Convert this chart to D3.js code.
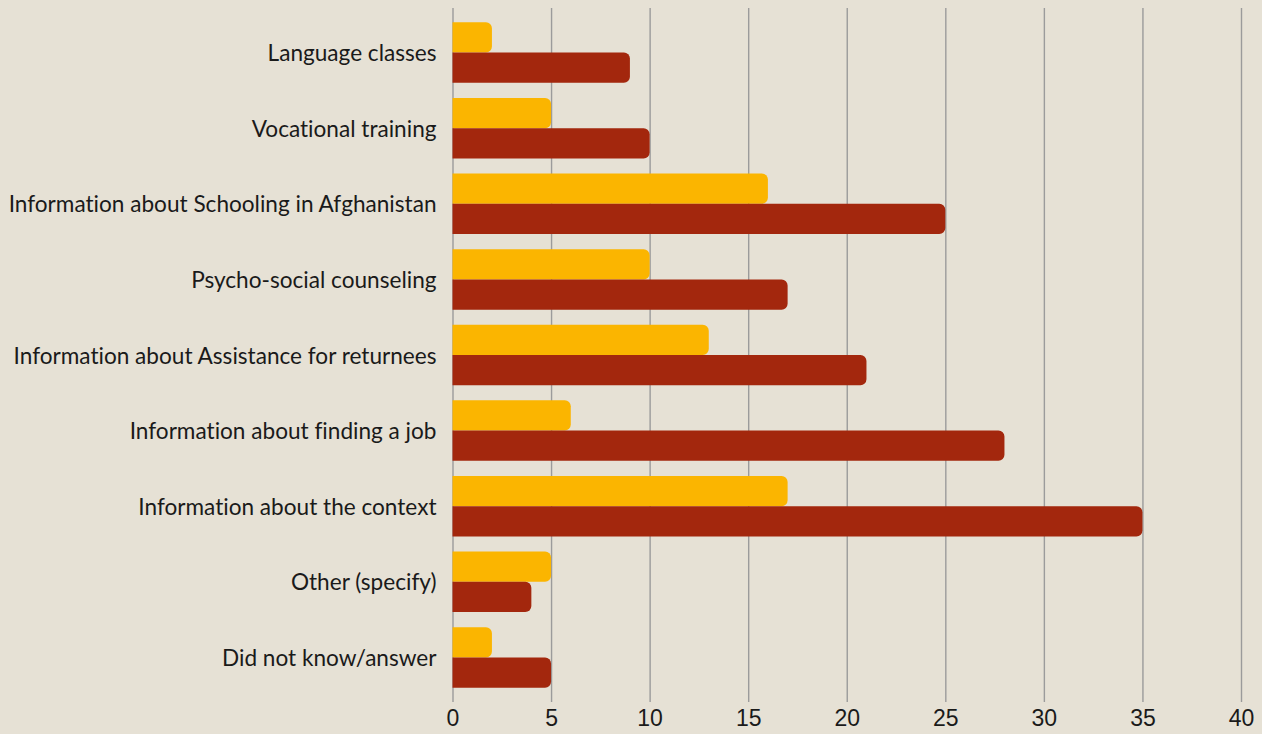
<!DOCTYPE html>
<html>
<head>
<meta charset="utf-8">
<script src="https://cdn.jsdelivr.net/npm/d3@7"></script>
<style>
  html, body { margin: 0; padding: 0; background: #e6e1d5; }
  svg { display: block; font-family: Lato, "Open Sans", sans-serif; font-variant-ligatures: none; }
  .cat { font-size: 22.6px; fill: #1a1a1a; }
  .tick text { font-size: 23px; fill: #1a1a1a; }
</style>
</head>
<body>
<div id="chart"></div>
<script>
const categories = [
    'Language classes',
    'Vocational training',
    'Information about Schooling in Afghanistan',
    'Psycho-social counseling',
    'Information about Assistance for returnees',
    'Information about finding a job',
    'Information about the context',
    'Other (specify)',
    'Did not know/answer'
];
const seriesA = [2, 5, 16, 10, 13, 6, 17, 5, 2];
const seriesB = [9, 10, 25, 17, 21, 28, 35, 4, 5];
const xTicks = [0, 5, 10, 15, 20, 25, 30, 35, 40];

const w = 1262, h = 734,
    margin = { top: 8, bottom: 32, left: 452.5, right: 21 };

const svg = d3.select('#chart').append('svg')
    .attr('width', w)
    .attr('height', h);

svg.append('rect').attr('width', w).attr('height', h).attr('fill', '#e6e1d5');

const xScale = d3.scaleLinear()
    .domain([0, 40])
    .range([margin.left, w - margin.right]);

const yScale = d3.scaleBand()
    .domain(categories)
    .range([margin.top, h - margin.bottom])
    .paddingInner(0.2)
    .paddingOuter(0.19);

const sub = d3.scaleBand()
    .domain(['a', 'b'])
    .range([0, yScale.bandwidth()]);

// grid + ticks
const xAxis = d3.axisBottom(xScale)
    .tickValues(xTicks)
    .tickSize(-(h - margin.bottom - margin.top))
    .tickPadding(8);

const gx = svg.append('g')
    .attr('id', 'x-axis')
    .attr('transform', 'translate(0,' + (h - margin.bottom) + ')')
    .call(xAxis);
gx.select('.domain').remove();
gx.selectAll('.tick line').attr('stroke', '#9b9b9b').attr('stroke-width', 1.4);
gx.selectAll('.tick text').attr('dy', '0.68em');

// bar with rounded right end
const barPath = (x0, x1, y, bh, r) => {
    r = Math.min(r, (x1 - x0) / 2, bh / 2);
    return 'M' + x0 + ',' + y +
        'H' + (x1 - r) +
        'A' + r + ',' + r + ' 0 0 1 ' + x1 + ',' + (y + r) +
        'V' + (y + bh - r) +
        'A' + r + ',' + r + ' 0 0 1 ' + (x1 - r) + ',' + (y + bh) +
        'H' + x0 + 'Z';
};

const rows = categories.map((c, i) => ({ cat: c, a: seriesA[i], b: seriesB[i] }));

const g = svg.selectAll('g.row')
    .data(rows)
    .enter()
    .append('g')
    .attr('class', 'row')
    .attr('transform', d => 'translate(0,' + yScale(d.cat) + ')');

g.append('path')
    .attr('fill', '#fbb500')
    .attr('d', d => barPath(xScale(0), xScale(d.a), sub('a'), sub.bandwidth(), 6));

g.append('path')
    .attr('fill', '#a3270d')
    .attr('d', d => barPath(xScale(0), xScale(d.b), sub('b'), sub.bandwidth(), 6));

g.append('text')
    .attr('class', 'cat')
    .attr('x', margin.left - 16)
    .attr('y', yScale.bandwidth() / 2)
    .attr('dy', '0.38em')
    .attr('text-anchor', 'end')
    .text(d => d.cat);
</script>
</body>
</html>
